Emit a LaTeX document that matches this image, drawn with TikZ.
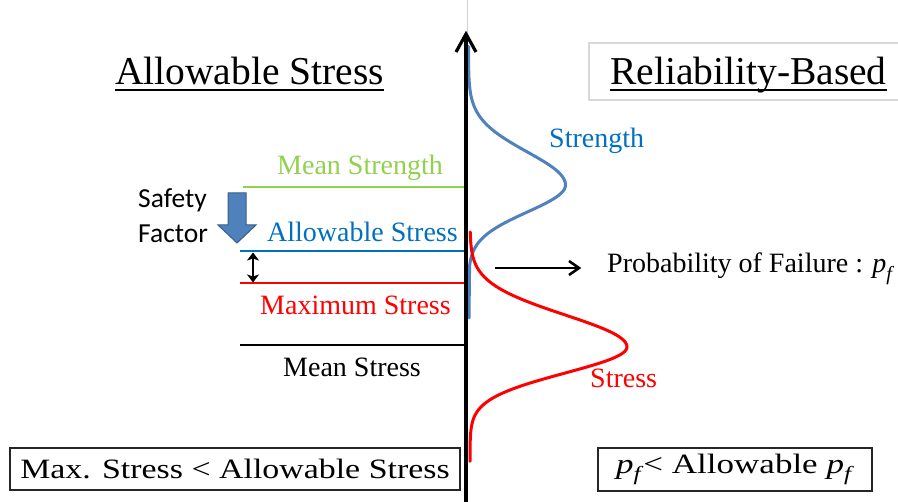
\documentclass[tikz,border=0pt]{standalone}
\usepackage{fontspec}
\setmainfont{Liberation Serif}
\newfontfamily\calibfont{Carlito}
\usetikzlibrary{arrows.meta}
\definecolor{cblue}{HTML}{0070C0}
\definecolor{cstrength}{HTML}{4F81BD}
\definecolor{cgreen}{HTML}{92D050}
\definecolor{cred}{HTML}{FF0000}
\definecolor{cborder}{HTML}{385D8A}
\newcommand\pfail{\textit{p}\raisebox{-0.28em}{\scalebox{0.72}{\textit{f}}}}
\begin{document}
\begin{tikzpicture}[x=1pt,y=-1pt,
  lbl/.style={inner sep=0pt, anchor=base west, font=\rmfamily\fontsize{28}{32}\selectfont},
  ttl/.style={inner sep=0pt, anchor=base west, font=\rmfamily\fontsize{39.5}{46}\selectfont},
  sfl/.style={inner sep=0pt, anchor=base west, font=\calibfont\fontsize{27.5}{30}\selectfont},
  level/.style={line width=2pt},
  curve/.style={line width=3pt, line join=round, line cap=round},
  chev/.style={line width=3.2pt, line join=miter, line cap=butt},
  resbox/.style={draw=black!85, line width=1.2pt, inner sep=0pt, font=\rmfamily\fontsize{28}{32}\selectfont}]
\useasboundingbox (0,0) rectangle (898,502);

% thin gray guide line
\draw[black!18, line width=1pt] (467.5,0) -- (467.5,502);

% frame of the right title
\draw[black!15, line width=1.2pt] (589,43) rectangle (910,100);

% titles
\node[ttl] (lt) at (115,85) {Allowable Stress};
\node[ttl] (rt) at (610,85) {Reliability-Based};
\draw[line width=2pt] ([yshift=-5pt]lt.base west) -- ([yshift=-5pt]lt.base east);
\draw[line width=2pt] ([yshift=-5pt]rt.base west) -- ([yshift=-5pt]rt.base east);

% levels
\coordinate (gL) at (243,187); \coordinate (gR) at (465,187);
\coordinate (bL) at (240,251); \coordinate (bR) at (465,251);
\coordinate (rL) at (240,283); \coordinate (rR) at (465,283);
\coordinate (kL) at (240,345); \coordinate (kR) at (465,345);
\draw[level,cgreen] (gL) -- (gR);
\draw[level,cblue] (bL) -- (bR);
\draw[level,cred] (rL) -- (rR);
\draw[level,black] (kL) -- (kR);

\node[lbl,text=cgreen] (ms) at (277,175) {Mean Strength};
\node[lbl,text=cblue] (as) at (267,242) {Allowable Stress};
\node[lbl,text=cred] (mx) at (260,315) {Maximum Stress};
\node[lbl] (mst) at (283,377) {Mean Stress};

% safety factor
\node[sfl] (sf1) at (138,208) {Safety};
\node[sfl] (sf2) at (138,243) {Factor};
\draw[fill=cstrength, draw=cborder, line width=1pt, line join=miter]
  (228,193) -- (246,193) -- (246,225) -- (256,225) -- (237,243) -- (218,225) -- (228,225) -- cycle;
\coordinate (dT) at (253,252.5); \coordinate (dB) at (253,282.5);
\draw[line width=2.6pt, {Stealth[length=8pt,width=12pt,inset=2pt]}-{Stealth[length=8pt,width=12pt,inset=2pt]}] (dT) -- (dB);

% distributions
\draw[curve, cstrength]
  plot[domain=-4.2:0, samples=50, smooth] ({468.5+97*exp(-0.5*\x*\x)},{185+33*\x})
  -- plot[domain=0:3.0, samples=40, smooth] ({468.5+97*exp(-0.5*\x*\x)},{185+27*\x})
  -- (469,318);
\draw[curve, cred]
  plot[domain=-3.6:0, samples=50, smooth] ({470+157*exp(-0.5*\x*\x)},{347+32*\x})
  -- plot[domain=0:4.4, samples=50, smooth] ({470+157*exp(-0.5*\x*\x)},{347+26*\x});

\node[lbl,text=cblue] (st) at (549,148) {Strength};
\node[lbl,text=cred] (ss) at (590,388) {Stress};

% axis
\coordinate (ax0) at (466,502); \coordinate (ax1) at (466,34);
\draw[line width=3.5pt] (ax0) -- (ax1);
\draw[chev] ([shift={(-10,18)}]ax1) -- (ax1) -- ([shift={(10,18)}]ax1);

% probability of failure
\node[lbl] (pf) at (607,273) {Probability of Failure : \pfail};
\coordinate (pa) at (495,268); \coordinate (pb) at (579,268);
\draw[line width=2.5pt] (pa) -- (pb);
\draw[chev, line width=2.6pt] ([shift={(-10,-7)}]pb) -- (pb) -- ([shift={(-10,7)}]pb);

% criteria boxes
\node[resbox, minimum width=450pt, minimum height=42pt] (bl) at (235,469)
  {\scalebox{1.21}[1]{Max. Stress < Allowable Stress}};
\node[resbox, minimum width=274pt, minimum height=43pt] (br) at (735,469.5)
  {\scalebox{1.25}[1]{\pfail< Allowable \pfail}};
\end{tikzpicture}
\end{document}
